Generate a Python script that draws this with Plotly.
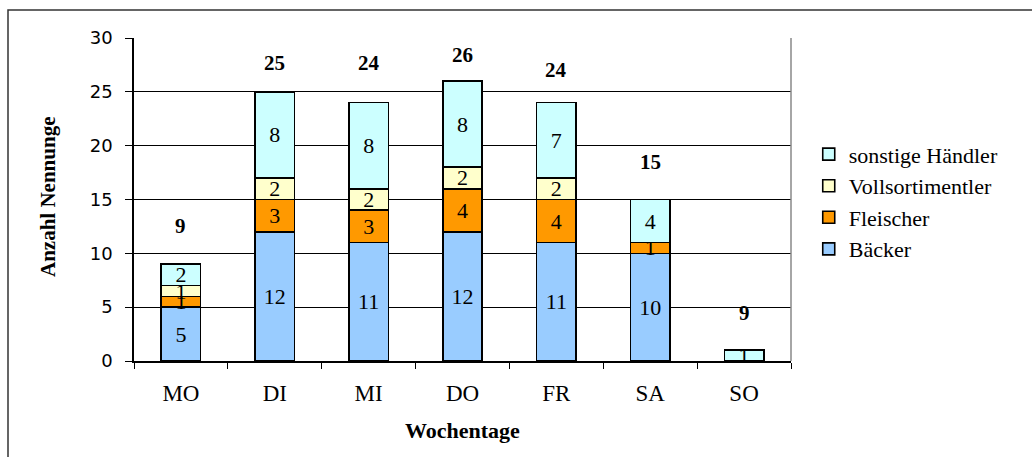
import plotly.graph_objects as go

# Wochentage und Nennungen je Händlertyp
tage = ["MO", "DI", "MI", "DO", "FR", "SA", "SO"]
baecker = [5, 12, 11, 12, 11, 10, 0]
fleischer = [1, 3, 3, 4, 4, 1, 0]
vollsortimentler = [1, 2, 2, 2, 2, 0, 0]
sonstige = [2, 8, 8, 8, 7, 4, 1]
summen_text = ["9", "25", "24", "26", "24", "15", "9"]

# Abstand der Summenbeschriftung über dem Säulenende (in Achseneinheiten)
summen_abstand = [3.5, 2.7, 3.7, 2.4, 3.0, 3.5, 3.5]

serif = "Liberation Serif, Times New Roman, serif"
sans = "DejaVu Sans, Arial, sans-serif"

reihen = [
    ("Bäcker", baecker, "#99CCFF"),
    ("Fleischer", fleischer, "#FF9900"),
    ("Vollsortimentler", vollsortimentler, "#FFFFCC"),
    ("sonstige Händler", sonstige, "#CCFFFF"),
]

fig = go.Figure()
for name, werte, farbe in reihen:
    fig.add_trace(go.Bar(
        x=tage, y=werte, name=name, legendgroup=name,
        marker=dict(color=farbe, line=dict(color="black", width=1.6)),
        text=[str(v) if v else "" for v in werte],
        textposition="inside", insidetextanchor="middle",
        textangle=0, constraintext="none",
        textfont=dict(family=serif, size=22, color="black"),
        hoverinfo="skip",
    ))

oben = [a + b + c + d for a, b, c, d in zip(baecker, fleischer, vollsortimentler, sonstige)]
for tag, top, lift, txt in zip(tage, oben, summen_abstand, summen_text):
    fig.add_annotation(x=tag, y=top + lift, text="<b>" + txt + "</b>",
                       showarrow=False, xref="x", yref="y",
                       xanchor="center", yanchor="middle",
                       font=dict(family=serif, size=21, color="black"))

# Achsentitel
fig.add_annotation(x=(462 - 134) / 657, y=(361 - 430) / 323, xref="paper", yref="paper",
                   xanchor="center", yanchor="middle",
                   text="<b>Wochentage</b>", showarrow=False,
                   font=dict(family=serif, size=22, color="black"))
fig.add_annotation(x=(48 - 134) / 657, y=(361 - 197) / 323, xref="paper", yref="paper",
                   xanchor="center", yanchor="middle",
                   text="<b>Anzahl Nennunge</b>", textangle=-90, showarrow=False,
                   font=dict(family=serif, size=21, color="black"))

# Rahmen um das Diagramm und rechter Rand der Zeichenfläche
fig.add_shape(type="rect", xref="paper", yref="paper",
              x0=(8 - 134) / 657, x1=(1045 - 134) / 657,
              y0=(361 - 470) / 323, y1=(361 - 10) / 323,
              line=dict(color="#333333", width=1.5), layer="below")
fig.add_shape(type="line", xref="paper", yref="paper", x0=1, x1=1, y0=0, y1=1,
              line=dict(color="#888888", width=1.5))

fig.update_layout(
    width=1032, height=457,
    margin=dict(l=134, r=241, t=38, b=96),
    barmode="stack", bargap=0.58,
    plot_bgcolor="white", paper_bgcolor="white",
    showlegend=True,
    legend=dict(x=1.027, y=0.705, xanchor="left", yanchor="top",
                traceorder="reversed", tracegroupgap=0,
                font=dict(family=serif, size=22, color="black"),
                bgcolor="rgba(0,0,0,0)"),
    xaxis=dict(type="category", showgrid=False, showline=True,
               linecolor="black", linewidth=1.5,
               ticks="outside", tickson="boundaries", ticklen=6,
               tickcolor="black", ticklabelstandoff=11,
               tickfont=dict(family=serif, size=23, color="black")),
    yaxis=dict(range=[0, 30], dtick=5, showgrid=True, gridcolor="black",
               gridwidth=1, showline=True, linecolor="black", linewidth=1.5,
               ticks="outside", ticklen=7, tickcolor="black",
               zeroline=False, ticklabelstandoff=9,
               tickfont=dict(family=sans, size=18, color="black")),
)

fig.write_html("out.html")
